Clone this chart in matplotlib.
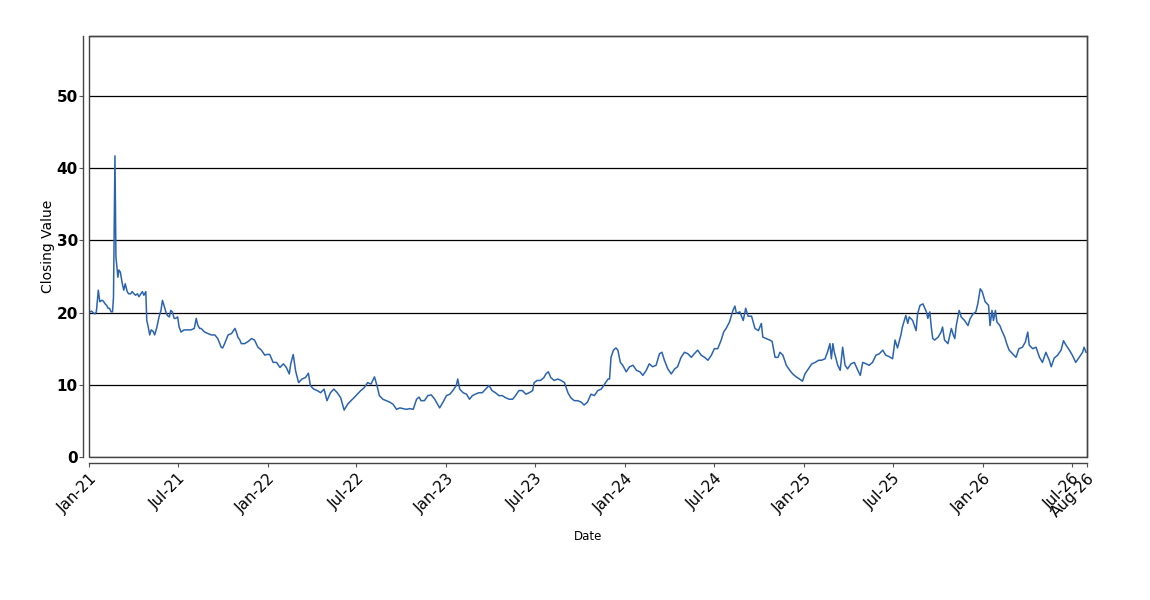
import pandas as pd
import matplotlib
matplotlib.use("Agg")
import matplotlib.pyplot as plt
import matplotlib.dates as mdates
from matplotlib.patches import Rectangle

# closing values
dates = [
    "2021-01-03", "2021-01-06", "2021-01-13", "2021-01-16", "2021-01-20", "2021-01-23", "2021-01-27", "2021-01-30",
    "2021-02-03", "2021-02-06", "2021-02-09", "2021-02-12", "2021-02-15", "2021-02-18", "2021-02-20", "2021-02-23",
    "2021-02-25", "2021-03-01", "2021-03-03", "2021-03-06", "2021-03-10", "2021-03-13", "2021-03-16", "2021-03-20",
    "2021-03-23", "2021-03-27", "2021-03-30", "2021-04-03", "2021-04-06", "2021-04-10", "2021-04-13", "2021-04-17",
    "2021-04-20", "2021-04-23", "2021-04-27", "2021-04-29", "2021-05-02", "2021-05-05", "2021-05-08", "2021-05-12",
    "2021-05-15", "2021-05-19", "2021-05-24", "2021-05-28", "2021-05-31", "2021-06-04", "2021-06-07", "2021-06-10",
    "2021-06-14", "2021-06-17", "2021-06-20", "2021-06-24", "2021-06-27", "2021-07-01", "2021-07-04", "2021-07-08",
    "2021-07-14", "2021-07-21", "2021-07-28", "2021-08-04", "2021-08-08", "2021-08-11", "2021-08-15", "2021-08-18",
    "2021-08-25", "2021-09-01", "2021-09-08", "2021-09-15", "2021-09-21", "2021-09-28", "2021-10-01", "2021-10-05",
    "2021-10-12", "2021-10-19", "2021-10-26", "2021-10-29", "2021-11-01", "2021-11-05", "2021-11-08", "2021-11-15",
    "2021-11-22", "2021-11-29", "2021-12-05", "2021-12-12", "2021-12-19", "2021-12-26", "2021-12-30",
    "2022-01-05", "2022-01-12", "2022-01-19", "2022-01-26", "2022-02-02", "2022-02-08", "2022-02-14", "2022-02-17",
    "2022-02-22", "2022-02-27", "2022-03-05", "2022-03-12", "2022-03-19", "2022-03-25", "2022-03-29", "2022-04-05",
    "2022-04-12", "2022-04-19", "2022-04-26", "2022-05-02", "2022-05-09", "2022-05-16", "2022-05-23", "2022-05-30",
    "2022-06-06", "2022-06-13", "2022-06-20", "2022-06-26", "2022-07-03", "2022-07-10", "2022-07-17", "2022-07-24",
    "2022-07-31", "2022-08-07", "2022-08-12", "2022-08-17", "2022-08-24", "2022-08-31", "2022-09-07", "2022-09-14",
    "2022-09-21", "2022-09-28", "2022-10-04", "2022-10-11", "2022-10-18", "2022-10-25", "2022-11-01", "2022-11-06",
    "2022-11-10", "2022-11-17", "2022-11-24", "2022-12-01", "2022-12-08", "2022-12-18", "2022-12-25",
    "2023-01-01", "2023-01-08", "2023-01-14", "2023-01-21", "2023-01-24", "2023-01-28", "2023-02-04", "2023-02-11",
    "2023-02-17", "2023-02-23", "2023-03-01", "2023-03-08", "2023-03-15", "2023-03-22", "2023-03-29", "2023-04-04",
    "2023-04-11", "2023-04-18", "2023-04-25", "2023-05-02", "2023-05-09", "2023-05-16", "2023-05-22", "2023-05-29",
    "2023-06-05", "2023-06-12", "2023-06-19", "2023-06-26", "2023-06-29", "2023-07-05", "2023-07-12", "2023-07-19",
    "2023-07-23", "2023-07-28", "2023-08-02", "2023-08-09", "2023-08-16", "2023-08-23", "2023-08-30", "2023-09-06",
    "2023-09-12", "2023-09-19", "2023-09-26", "2023-10-03", "2023-10-09", "2023-10-16", "2023-10-23", "2023-10-30",
    "2023-11-06", "2023-11-13", "2023-11-20", "2023-11-27", "2023-11-30", "2023-12-03", "2023-12-08", "2023-12-13",
    "2023-12-17", "2023-12-22", "2023-12-27",
    "2024-01-03", "2024-01-10", "2024-01-17", "2024-01-24", "2024-01-31", "2024-02-06", "2024-02-13", "2024-02-19",
    "2024-02-26", "2024-03-04", "2024-03-11", "2024-03-16", "2024-03-21", "2024-03-28", "2024-04-04", "2024-04-11",
    "2024-04-17", "2024-04-24", "2024-05-01", "2024-05-08", "2024-05-15", "2024-05-21", "2024-05-28", "2024-06-04",
    "2024-06-11", "2024-06-18", "2024-06-25", "2024-07-01", "2024-07-08", "2024-07-15", "2024-07-20", "2024-07-25",
    "2024-08-01", "2024-08-08", "2024-08-12", "2024-08-15", "2024-08-22", "2024-08-29", "2024-09-03", "2024-09-08",
    "2024-09-15", "2024-09-22", "2024-09-29", "2024-10-05", "2024-10-08", "2024-10-15", "2024-10-22", "2024-10-27",
    "2024-11-02", "2024-11-08", "2024-11-12", "2024-11-18", "2024-11-25", "2024-12-02", "2024-12-08", "2024-12-15",
    "2024-12-22", "2024-12-28",
    "2025-01-02", "2025-01-09", "2025-01-16", "2025-01-23", "2025-01-30", "2025-02-05", "2025-02-12", "2025-02-17",
    "2025-02-22", "2025-02-25", "2025-02-28", "2025-03-03", "2025-03-10", "2025-03-15", "2025-03-20", "2025-03-25",
    "2025-03-30", "2025-04-06", "2025-04-13", "2025-04-20", "2025-04-25", "2025-04-30", "2025-05-07", "2025-05-13",
    "2025-05-20", "2025-05-27", "2025-06-03", "2025-06-10", "2025-06-16", "2025-06-23", "2025-06-30", "2025-07-05",
    "2025-07-10", "2025-07-17", "2025-07-20", "2025-07-27", "2025-07-31", "2025-08-03", "2025-08-10", "2025-08-17",
    "2025-08-20", "2025-08-25", "2025-08-31", "2025-09-07", "2025-09-10", "2025-09-14", "2025-09-17", "2025-09-20",
    "2025-09-24", "2025-10-01", "2025-10-07", "2025-10-10", "2025-10-14", "2025-10-21", "2025-10-28", "2025-11-01",
    "2025-11-04", "2025-11-07", "2025-11-13", "2025-11-17", "2025-11-24", "2025-12-01", "2025-12-05", "2025-12-11",
    "2025-12-17", "2025-12-21", "2025-12-26", "2025-12-30",
    "2026-01-05", "2026-01-12", "2026-01-15", "2026-01-19", "2026-01-22", "2026-01-26", "2026-01-29", "2026-02-04",
    "2026-02-08", "2026-02-14", "2026-02-18", "2026-02-23", "2026-03-02", "2026-03-09", "2026-03-15", "2026-03-22",
    "2026-03-28", "2026-04-02", "2026-04-05", "2026-04-12", "2026-04-19", "2026-04-26", "2026-05-02", "2026-05-09",
    "2026-05-16", "2026-05-20", "2026-05-26", "2026-06-02", "2026-06-09", "2026-06-14", "2026-06-19", "2026-06-26",
    "2026-07-02", "2026-07-09", "2026-07-16", "2026-07-23", "2026-07-26", "2026-07-30",
]
closing = [
    20.1, 20.2, 19.8, 20.1, 23.1, 21.5, 21.7, 21.6,
    21.2, 21.0, 20.6, 20.6, 20.1, 20.1, 22.1, 41.7,
    27.7, 24.9, 25.9, 25.6, 24.0, 23.1, 24.0, 22.9,
    22.6, 22.6, 22.9, 22.6, 22.4, 22.6, 22.2, 22.6,
    22.9, 22.4, 22.9, 18.9, 18.0, 16.9, 17.6, 17.4,
    16.9, 17.8, 19.4, 20.3, 21.7, 20.8, 20.1, 19.6,
    19.4, 20.3, 20.1, 19.2, 19.2, 19.4, 18.0, 17.3,
    17.6, 17.6, 17.6, 17.8, 19.2, 18.3, 17.8, 17.8,
    17.3, 17.1, 16.9, 16.9, 16.4, 15.2, 15.1, 15.7,
    16.9, 17.1, 17.8, 17.3, 16.6, 16.2, 15.7, 15.7,
    16.0, 16.4, 16.2, 15.2, 14.8, 14.1, 14.2,
    14.2, 13.1, 13.1, 12.4, 12.9, 12.4, 11.5, 12.9,
    14.2, 11.9, 10.3, 10.8, 11.0, 11.6, 9.9, 9.4,
    9.2, 8.9, 9.4, 7.8, 8.9, 9.4, 8.9, 8.2,
    6.5, 7.3, 7.8, 8.2, 8.7, 9.2, 9.6, 10.3,
    10.1, 11.1, 9.9, 8.5, 8.0, 7.8, 7.6, 7.3,
    6.6, 6.8, 6.7, 6.6, 6.7, 6.6, 8.0, 8.3,
    7.8, 7.8, 8.5, 8.6, 8.0, 6.8, 7.6,
    8.5, 8.7, 9.2, 9.9, 10.8, 9.4, 8.9, 8.7,
    8.0, 8.5, 8.7, 8.9, 8.9, 9.4, 9.9, 9.2,
    8.9, 8.5, 8.5, 8.2, 8.0, 8.0, 8.5, 9.2,
    9.2, 8.7, 8.9, 9.2, 10.3, 10.6, 10.6, 11.0,
    11.5, 11.8, 11.0, 10.6, 10.8, 10.6, 10.3, 8.9,
    8.2, 7.8, 7.8, 7.6, 7.2, 7.6, 8.7, 8.5,
    9.2, 9.4, 10.1, 10.8, 10.8, 13.8, 14.8, 15.1,
    14.8, 13.1, 12.7,
    11.8, 12.5, 12.7, 12.0, 11.8, 11.3, 12.0, 12.9,
    12.5, 12.7, 14.3, 14.5, 13.4, 12.2, 11.5, 12.2,
    12.5, 13.8, 14.5, 14.3, 13.8, 14.3, 14.8, 14.1,
    13.8, 13.4, 14.1, 15.0, 15.0, 16.2, 17.3, 17.8,
    18.7, 20.3, 20.9, 19.9, 20.1, 18.9, 20.6, 19.5,
    19.5, 17.8, 17.5, 18.5, 16.6, 16.4, 16.2, 16.0,
    13.8, 13.8, 14.5, 14.1, 12.7, 12.0, 11.5, 11.1,
    10.8, 10.5,
    11.5, 12.2, 12.9, 13.1, 13.4, 13.4, 13.6, 14.5,
    15.7, 13.6, 15.7, 14.5, 12.7, 12.0, 15.2, 12.7,
    12.2, 12.9, 13.1, 12.0, 11.3, 13.1, 12.9, 12.7,
    13.1, 14.1, 14.3, 14.8, 14.1, 13.9, 13.6, 16.2,
    15.1, 16.9, 18.0, 19.6, 18.5, 19.4, 18.9, 17.5,
    19.8, 21.0, 21.2, 20.1, 19.2, 20.1, 18.0, 16.4,
    16.2, 16.6, 17.3, 18.0, 16.2, 15.7, 17.8, 16.9,
    16.4, 18.2, 20.3, 19.4, 18.9, 18.2, 19.1, 19.8,
    20.1, 21.2, 23.3, 22.9,
    21.5, 21.0, 18.2, 20.3, 18.9, 20.3, 18.7, 18.2,
    17.5, 16.6, 15.7, 14.8, 14.3, 13.8, 15.0, 15.2,
    15.9, 17.3, 15.5, 15.0, 15.2, 13.8, 13.1, 14.5,
    13.4, 12.5, 13.7, 14.1, 14.8, 16.1, 15.5, 14.8,
    14.1, 13.1, 13.8, 14.5, 15.2, 14.5,
]
tick_dates = list(pd.date_range("2021-01-01", "2026-07-01", freq="6MS")) + [pd.Timestamp("2026-08-01")]

df = pd.DataFrame({"Date": pd.to_datetime(dates), "Close": closing})

fig = plt.figure(figsize=(11.5, 6), dpi=100)
ax = fig.add_axes([89 / 1150, 1 - 457 / 600, 998 / 1150, 421 / 600])

# detached axis lines like the original (set first: set_position resets ticks)
for side in ["left", "bottom"]:
    ax.spines[side].set_position(("outward", 4))
for side in ax.spines:
    ax.spines[side].set_color("#444444")
    ax.spines[side].set_linewidth(1.0)
ax.add_patch(Rectangle((0, 0), 1, 1, transform=ax.transAxes, fill=False,
                       edgecolor="#444444", linewidth=1.0, clip_on=False, zorder=5))

ax.plot(df["Date"], df["Close"], color="#2b64ae", linewidth=1.1)

ax.set_xlim(pd.Timestamp("2021-01-01"), pd.Timestamp("2026-08-01"))
ax.set_ylim(0, 58.3)
ax.set_yticks([0, 10, 20, 30, 40, 50])
ax.yaxis.grid(True, color="black", linewidth=0.9)
ax.set_axisbelow(True)

ax.set_xticks(tick_dates)
ax.xaxis.set_major_formatter(mdates.DateFormatter("%b-%y"))
ax.tick_params(length=3, width=0.8, color="#555555")
ax.tick_params(axis="x", labelrotation=45, labelsize=11, pad=3)
ax.tick_params(axis="y", labelsize=11, pad=1)
for lbl in ax.get_xticklabels():
    lbl.set_ha("right")
    lbl.set_rotation_mode("anchor")
for lbl in ax.get_yticklabels():
    lbl.set_fontweight("bold")

ax.set_ylabel("Closing Value", fontsize=10, labelpad=1)
ax.set_xlabel("Date", fontsize=8.5, labelpad=7)

fig.savefig("out.png", dpi=100)
